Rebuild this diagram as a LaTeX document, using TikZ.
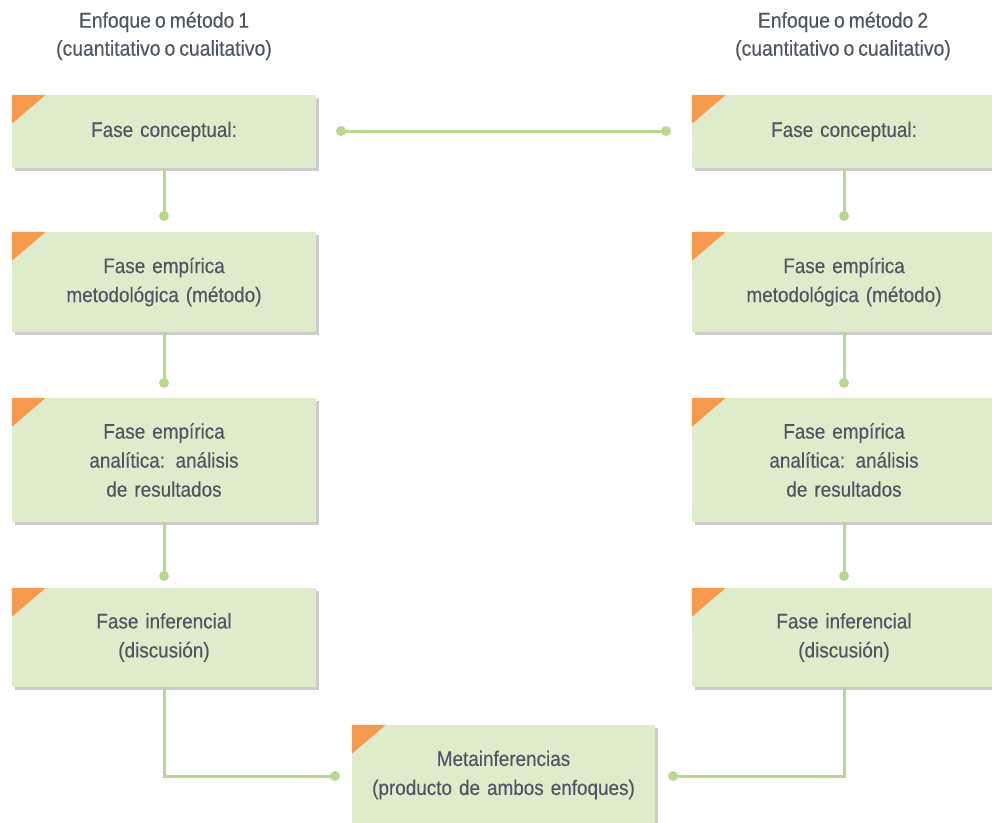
\documentclass[tikz,border=0pt]{standalone}
\usepackage{fontspec}
\setmainfont{Liberation Sans}[FakeStretch=0.9, WordSpace=0.75, FakeBold=0.3]
\usetikzlibrary{shadows}
\definecolor{boxfill}{RGB}{223,236,204}
\definecolor{lineg}{RGB}{185,215,143}
\definecolor{corner}{RGB}{245,154,79}
\definecolor{txt}{RGB}{78,86,98}
\begin{document}
\begin{tikzpicture}[x=1pt,y=-1pt,
  phase/.style={fill=boxfill, minimum width=304pt, text width=295pt, align=center,
    inner sep=0pt, font=\fontsize{21}{29}\selectfont, text=txt,
    drop shadow={shadow xshift=3pt, shadow yshift=-3pt, fill=black, opacity=0.2}},
  conn/.style={draw=lineg, line width=3pt},
  dot/.style={circle, fill=lineg, inner sep=0pt, minimum size=10pt},
  head/.style={align=center, text=txt, font=\fontsize{21.5}{28}\selectfont},
  cornertri/.style={fill=corner}]
\useasboundingbox (0,0) rectangle (992,822);
\fill[white] (0,0) rectangle (992,822);

% headers
\node[head] (h1) at (164,36) {Enfoque o método 1\\(cuantitativo o cualitativo)};
\node[head] (h2) at (843,36) {Enfoque o método 2\\(cuantitativo o cualitativo)};

% dots
\node[dot] (d1) at (164,216) {};
\node[dot] (d2) at (164,383) {};
\node[dot] (d3) at (164,576) {};
\node[dot] (e1) at (844,216) {};
\node[dot] (e2) at (844,383) {};
\node[dot] (e3) at (844,576) {};
\node[dot] (t1) at (341,131) {};
\node[dot] (t2) at (666,131) {};
\node[dot] (m1) at (335,776) {};
\node[dot] (m2) at (673,776) {};

% left column
\node[phase, minimum height=73pt] (l1) at (164,131.5) {Fase conceptual:};
\node[phase, minimum height=100pt] (l2) at (164,282) {Fase empírica\\metodológica (método)};
\node[phase, minimum height=124pt] (l3) at (164,460) {Fase empírica\\analítica: análisis\\de resultados};
\node[phase, minimum height=99pt] (l4) at (164,637.5) {Fase inferencial\\(discusión)};

% right column
\node[phase, minimum height=73pt] (r1) at (844,131.5) {Fase conceptual:};
\node[phase, minimum height=100pt] (r2) at (844,282) {Fase empírica\\metodológica (método)};
\node[phase, minimum height=124pt] (r3) at (844,460) {Fase empírica\\analítica: análisis\\de resultados};
\node[phase, minimum height=99pt] (r4) at (844,637.5) {Fase inferencial\\(discusión)};

% bottom
\node[phase, minimum width=303pt, minimum height=100pt] (mb) at (503.5,775) {Metainferencias\\(producto de ambos enfoques)};

% corner triangles
\foreach \n in {l1,l2,l3,l4,r1,r2,r3,r4,mb}{
  \fill[cornertri] (\n.north west) -- ++(34,0) -- ++(-34,29) -- cycle;
}

% connectors
\draw[conn] (l1.south) -- (d1.center);
\draw[conn] (l2.south) -- (d2.center);
\draw[conn] (l3.south) -- (d3.center);
\draw[conn] (r1.south) -- (e1.center);
\draw[conn] (r2.south) -- (e2.center);
\draw[conn] (r3.south) -- (e3.center);
\draw[conn] (t1.center) -- (t2.center);
\draw[conn] (l4.south) |- (m1.center);
\draw[conn] (r4.south) |- (m2.center);
\end{tikzpicture}
\end{document}
